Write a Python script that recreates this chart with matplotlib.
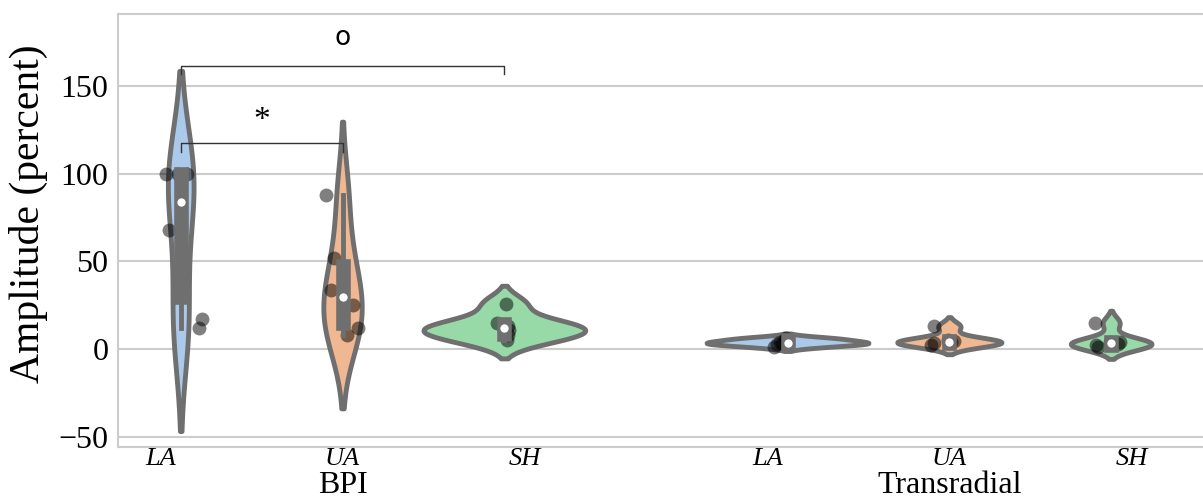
import colorsys

import matplotlib
matplotlib.use("Agg")
import matplotlib.pyplot as plt
import matplotlib.transforms as mtransforms
import numpy as np

plt.rcParams["font.family"] = ["Liberation Serif", "DejaVu Serif"]

# amplitude (percent) per subject, by group and recording site
groups = ["BPI", "Transradial"]
sites = ["LA", "UA", "SH"]

bpi_la = [12, 17, 68, 100, 100, 100]
bpi_ua = [8, 12, 25, 34, 52, 88]
bpi_sh = [5, 8, 11, 13, 15, 26]
tr_la = [1.5, 3, 3.5, 4, 5.5, 6.5]
tr_ua = [2.5, 3.5, 4, 4.5, 5, 13]
tr_sh = [1.5, 2.5, 3, 4, 4, 15]

data = {
    "BPI": [bpi_la, bpi_ua, bpi_sh],
    "Transradial": [tr_la, tr_ua, tr_sh],
}

# fixed strip jitter so the dots land in the same place every run
jitter = {
    "BPI": [[0.030, 0.035, -0.019, -0.024, -0.004, 0.011],
            [0.007, 0.026, 0.017, -0.019, -0.014, -0.027],
            [0.004, 0.006, 0.007, 0.006, -0.012, 0.002]],
    "Transradial": [[-0.022, -0.017, -0.009, -0.012, -0.004, -0.002],
                    [-0.030, -0.026, 0.003, 0.008, -0.002, -0.025],
                    [-0.022, -0.025, 0.011, 0.014, -0.002, -0.027]],
}

pastel = ["#a1c9f4", "#ffb482", "#8de5a1"]


def desaturate(hexcol, prop=0.75):
    r, g, b = matplotlib.colors.to_rgb(hexcol)
    h, l, s = colorsys.rgb_to_hls(r, g, b)
    return colorsys.hls_to_rgb(h, l, s * prop)


def kde(vals, cut=2, gridsize=100):
    vals = np.asarray(vals, float)
    bw = vals.std(ddof=1) * len(vals) ** (-1 / 5)
    support = np.linspace(vals.min() - cut * bw, vals.max() + cut * bw, gridsize)
    z = (support[:, None] - vals[None, :]) / bw
    dens = np.exp(-0.5 * z ** 2).sum(1) / (len(vals) * bw * np.sqrt(2 * np.pi))
    return support, dens


lum = min(colorsys.rgb_to_hls(*matplotlib.colors.to_rgb(c))[1] for c in pastel) * 0.6
gray = (lum, lum, lum)
lw = 3.5
hue_w = 0.8 / len(sites)
offsets = (np.arange(len(sites)) - 1) * hue_w

fig = plt.figure(figsize=(12.03, 4.99), dpi=100)
ax = fig.add_axes([0.0981, 0.1048, 0.9019, 0.8665])

for gi, g in enumerate(groups):
    kdes = [kde(v) for v in data[g]]
    peak = max(d.max() for _, d in kdes)
    for si, vals in enumerate(data[g]):
        x = gi + offsets[si]
        support, dens = kdes[si]
        half = dens / peak * hue_w / 2
        ax.fill_betweenx(support, x - half, x + half, facecolor=desaturate(pastel[si]),
                         edgecolor=gray, linewidth=lw, zorder=1)
        v = np.asarray(vals, float)
        q25, q50, q75 = np.percentile(v, [25, 50, 75])
        lim = 1.5 * (q75 - q25)
        lo = v[v >= q25 - lim].min()
        hi = v[v <= q75 + lim].max()
        ax.scatter(x + np.asarray(jitter[g][si]), v, s=100, color="black", alpha=0.5,
                   linewidth=0, zorder=1.5)
        ax.plot([x, x], [lo, hi], color=gray, linewidth=lw, zorder=2)
        ax.plot([x, x], [q25, q75], color=gray, linewidth=lw * 3, zorder=2)
        ax.scatter(x, q50, s=(lw * 2) ** 2, color="white", edgecolor=gray, zorder=3)

# significance brackets within BPI
def bracket(x1, x2, y, drop, label, ty, **kw):
    ax.plot([x1, x1, x2, x2], [y - drop, y, y, y - drop], color="#333333", linewidth=1, zorder=4)
    ax.text((x1 + x2) / 2, ty, label, ha="center", va="center", **kw)

bracket(offsets[0], offsets[1], 117.6, 5, "*", 130, fontsize=24)
bracket(offsets[0], offsets[2], 161.4, 4.5, "o", 177.5, fontsize=19, family="DejaVu Sans")

ax.set_xlim(-0.370, 1.418)
ax.set_ylim(-55.5, 190.8)
ax.set_yticks([-50, 0, 50, 100, 150])
ax.set_xticks(range(len(groups)))
ax.set_xticklabels(groups, fontsize=23)
ax.tick_params(axis="x", length=0, pad=17.5)
ax.tick_params(axis="y", length=0, pad=7, labelsize=23)
ax.set_ylabel("Amplitude (percent)", fontsize=30)
ax.yaxis.set_label_coords(-0.0645, 0.54)
ax.grid(axis="y", color="#cccccc", linewidth=1.5)
ax.set_axisbelow(True)
for side in ["left", "bottom", "top"]:
    ax.spines[side].set_color("#cccccc")
    ax.spines[side].set_linewidth(1.5)
ax.spines["right"].set_visible(False)

# site names under each violin
trans = mtransforms.blended_transform_factory(ax.transData, ax.transAxes)
for gi in range(len(groups)):
    for si, s in enumerate(sites):
        ax.text(gi + (si - 1) * 0.3, -0.004, s, transform=trans, ha="center", va="top",
                fontsize=19, style="italic")

fig.savefig("out.png", dpi=100)
